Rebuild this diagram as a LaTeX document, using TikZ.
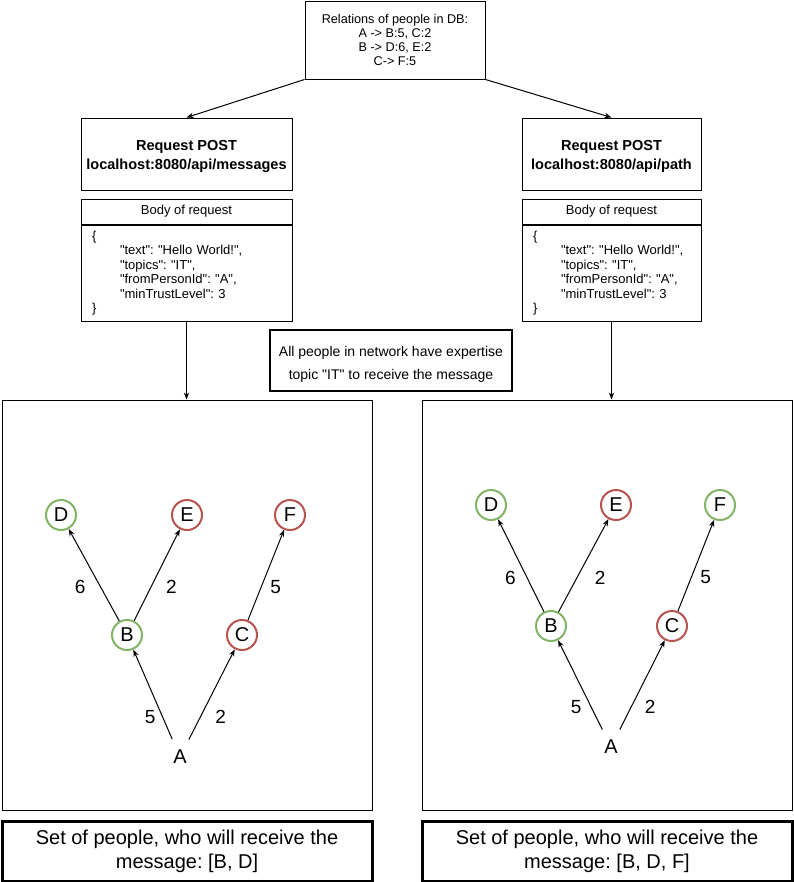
\documentclass[tikz,border=0pt]{standalone}
\usepackage{fontspec}
\setmainfont{Liberation Sans}[Ligatures=TeXOff]
\usetikzlibrary{positioning}
\usetikzlibrary{arrows.meta}
\definecolor{okgreen}{HTML}{82B366}
\definecolor{badred}{HTML}{B85450}
\frenchspacing

\begin{document}
\begin{tikzpicture}[>={Stealth[length=5.25pt,width=4pt]},x=0.75pt,y=-0.75pt,line width=0.75pt,
    box/.style={draw,align=center,inner sep=0pt},
    person/.style={circle,draw,line width=1.5pt,minimum size=22.5pt,inner sep=0pt,font=\fontsize{15}{17}\selectfont},
    good/.style={person,draw=okgreen},
    bad/.style={person,draw=badred},
    source/.style={circle,minimum size=28.5pt,inner sep=0pt,font=\fontsize{15}{17}\selectfont},
    weight/.style={inner sep=1pt,font=\fontsize{14.25}{16}\selectfont},
    edge/.style={->,line width=0.75pt},
    bodytext/.style={box,align=left,inner xsep=8.25pt,minimum height=72pt,font=\fontsize{9.75}{10.9}\selectfont}]
    \useasboundingbox (0,0) rectangle (793,882);

    % data in the database
    \node[box,minimum width=135pt,minimum height=58.5pt,font=\fontsize{9.5}{10.3}\selectfont] (relations) at (395,40)
        {Relations of people in DB:\\A -> B:5, C:2\\B -> D:6, E:2\\C-> F:5};

    % left request
    \node[bodytext,text width=141.75pt] (bodyL) at (186.5,273)
        {\{\\\hspace*{21pt}"text": "Hello World!",\\\hspace*{21pt}"topics": "IT",\\\hspace*{21pt}"fromPersonId": "A",\\\hspace*{21pt}"minTrustLevel": 3\\\}};
    \node[box,minimum width=158.25pt,minimum height=18.75pt,font=\fontsize{9.75}{11}\selectfont,above=0pt of bodyL] (headL) {Body of request};
    \node[box,minimum width=158.25pt,minimum height=54pt,font=\bfseries\fontsize{10.9}{14.25}\selectfont,above=6pt of headL] (reqL)
        {\rule{0pt}{12pt}Request POST\\localhost:8080/api/messages};

    % right request
    \node[bodytext,text width=117.75pt] (bodyR) at (611.5,273)
        {\{\\\hspace*{21pt}"text": "Hello World!",\\\hspace*{21pt}"topics": "IT",\\\hspace*{21pt}"fromPersonId": "A",\\\hspace*{21pt}"minTrustLevel": 3\\\}};
    \node[box,minimum width=134.25pt,minimum height=18.75pt,font=\fontsize{9.75}{11}\selectfont,above=0pt of bodyR] (headR) {Body of request};
    \node[box,minimum width=134.25pt,minimum height=54pt,font=\bfseries\fontsize{10.9}{14.25}\selectfont,above=6pt of headR] (reqR)
        {\rule{0pt}{12pt}Request POST\\localhost:8080/api/path};

    \node[box,line width=1.5pt,minimum width=181.5pt,minimum height=45.75pt,font=\fontsize{10.5}{17.25}\selectfont] (note) at (391,360.5)
        {\rule{0pt}{13.5pt}All people in network have expertise\\topic "IT" to receive the message};

    \node[box,minimum width=277.5pt,minimum height=307.5pt] (panelL) at (187,605) {};
    \node[box,minimum width=277.5pt,minimum height=307.5pt] (panelR) at (607,605) {};

    \draw[->] (relations.south west) -- (reqL.north);
    \draw[->] (relations.south east) -- (reqR.north);
    \draw[->] (bodyL.south) -- (bodyL.south |- panelL.north);
    \draw[->] (bodyR.south) -- (bodyR.south |- panelR.north);

    % messages endpoint
    \node[good] (dL) at (61,515) {D};
    \node[bad] (eL) at (187,515) {E};
    \node[bad] (fL) at (290,515) {F};
    \node[good] (bL) at (127,635) {B};
    \node[bad] (cL) at (242,635) {C};
    \node[source] (aL) at (180,757) {A};
    \draw[edge] (aL) -- node[weight,pos=0.25,left=4pt] {5} (bL);
    \draw[edge] (aL) -- node[weight,pos=0.25,right=10pt] {2} (cL);
    \draw[edge] (bL) -- node[weight,pos=0.37,left=10pt] {6} (dL);
    \draw[edge] (bL) -- node[weight,pos=0.37,right=10pt] {2} (eL);
    \draw[edge] (cL) -- node[weight,pos=0.37,right=5.5pt] {5} (fL);

    % path endpoint
    \node[good] (dR) at (491,505) {D};
    \node[bad] (eR) at (616,505) {E};
    \node[good] (fR) at (720,505) {F};
    \node[good] (bR) at (551,626) {B};
    \node[bad] (cR) at (672,626) {C};
    \node[source] (aR) at (611,747) {A};
    \draw[edge] (aR) -- node[weight,pos=0.25,left=6pt] {5} (bR);
    \draw[edge] (aR) -- node[weight,pos=0.25,right=9pt] {2} (cR);
    \draw[edge] (bR) -- node[weight,pos=0.37,left=7pt] {6} (dR);
    \draw[edge] (bR) -- node[weight,pos=0.37,right=12pt] {2} (eR);
    \draw[edge] (cR) -- node[weight,pos=0.37,right=5.5pt] {5} (fR);

    \node[box,line width=2.25pt,minimum width=277.5pt,minimum height=45pt,font=\fontsize{15}{18}\selectfont] (resultL) at (187,851)
        {Set of people, who will receive the\\message: [B, D]};
    \node[box,line width=2.25pt,minimum width=277.5pt,minimum height=45pt,font=\fontsize{15}{18}\selectfont] (resultR) at (607,851)
        {Set of people, who will receive the\\message: [B, D, F]};
\end{tikzpicture}
\end{document}
